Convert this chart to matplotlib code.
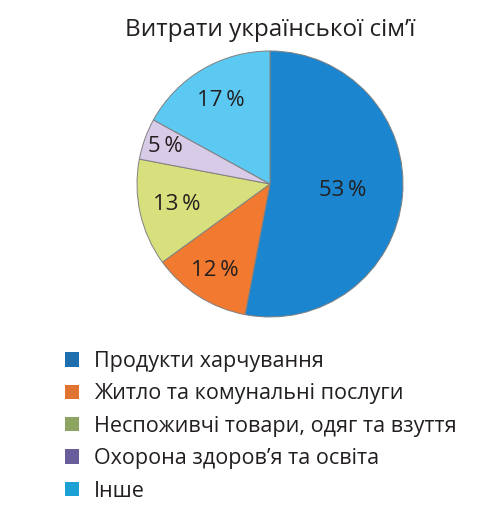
import matplotlib.pyplot as plt
from matplotlib.patches import Patch
import numpy as np

plt.rcParams['font.family'] = ['Open Sans', 'DejaVu Sans']

# Data
categories = ['Продукти харчування',
              'Житло та комунальні послуги',
              'Неспоживчі товари, одяг та взуття',
              'Охорона здоров\u2019я та освіта',
              'Інше']
shares = [53, 12, 13, 5, 17]
slice_colors = ['#1b86cf', '#f27a30', '#d7e07c', '#d8cbe8', '#5cc9f2']
legend_colors = ['#1f6fae', '#e2722f', '#8da462', '#6b5c9c', '#1ba1d4']
label_dist = [0.55, 0.77, 0.72, 0.84, 0.73]

W, H = 501, 508
fig = plt.figure(figsize=(W / 100, H / 100), dpi=100)

# pie axes: centre (270, 184) px, radius ~133 px
cx, cy, half = 270, 184, 140
ax = fig.add_axes([(cx - half) / W, (H - cy - half) / H, 2 * half / W, 2 * half / H])
wedges, _ = ax.pie(shares, colors=slice_colors, startangle=90, counterclock=False,
                   radius=1.0,
                   wedgeprops=dict(edgecolor='#808080', linewidth=0.7))
ax.set_xlim(-half / 133, half / 133)
ax.set_ylim(-half / 133, half / 133)
ax.set_aspect('equal')
ax.axis('off')

for w, val, d in zip(wedges, shares, label_dist):
    mid = np.deg2rad((w.theta1 + w.theta2) / 2)
    ax.text(d * np.cos(mid), d * np.sin(mid), f'{val}\u2009%',
            ha='center', va='center', fontsize=16, color='#231f20')

fig.text(cx / W, 1 - 30 / H, 'Витрати української сім\u2019ї',
         ha='center', va='center', fontsize=17.5, color='#231f20')

handles = [Patch(facecolor=c, edgecolor='none') for c in legend_colors]
fig.legend(handles, categories, loc='upper left',
           bbox_to_anchor=(65 / W, 1 - 351 / H), frameon=False,
           fontsize=15.5, handlelength=0.65, handleheight=0.65,
           handletextpad=0.7, labelspacing=0.53, borderpad=0, borderaxespad=0,
           labelcolor='#231f20')

fig.savefig('out.png', dpi=100, facecolor='white')
